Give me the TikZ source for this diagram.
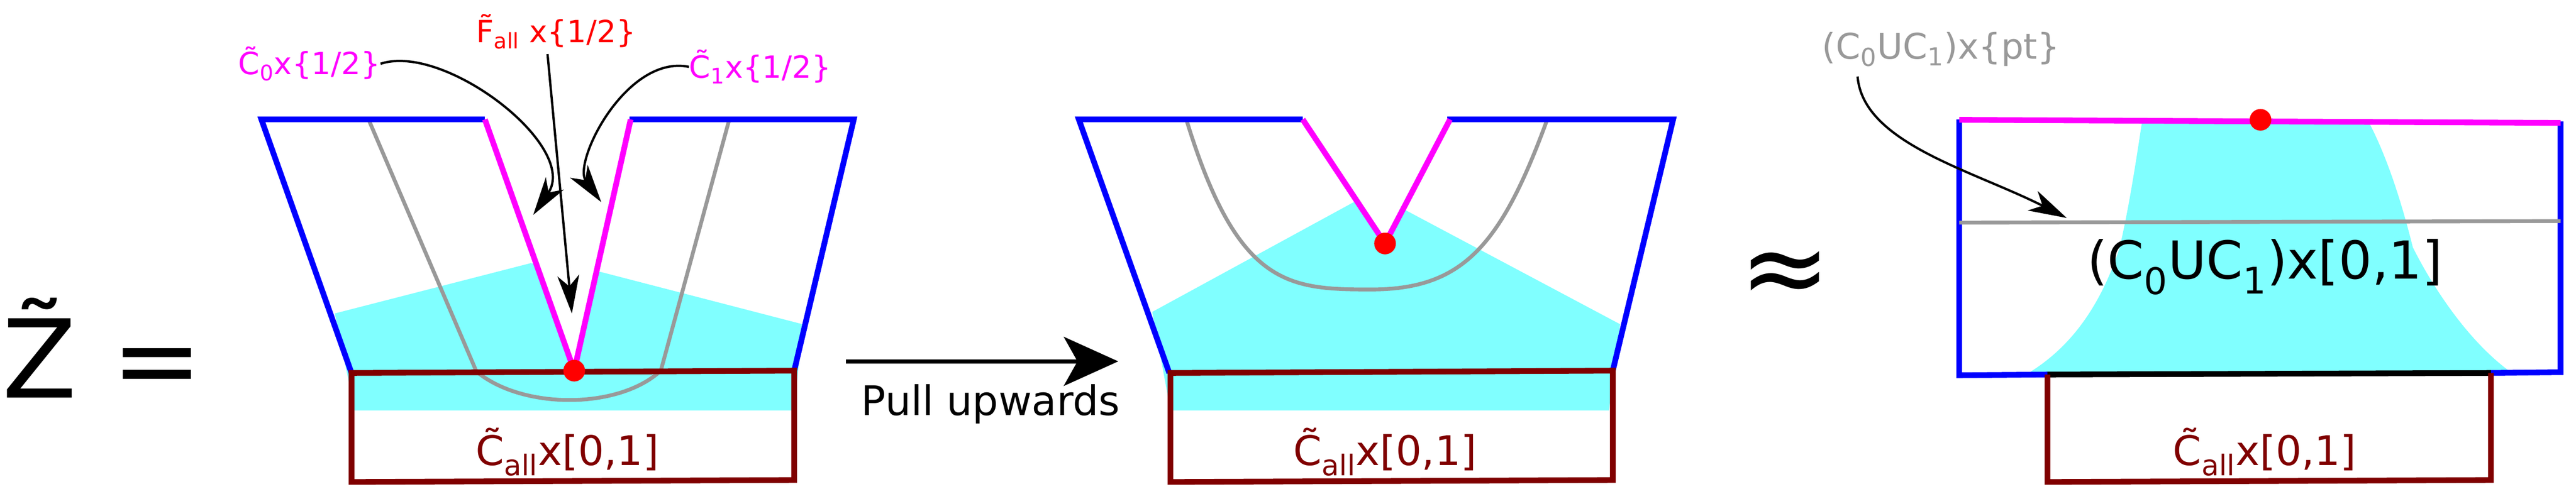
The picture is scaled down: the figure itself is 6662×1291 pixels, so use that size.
\documentclass[tikz,border=0pt]{standalone}
\usepackage{fontspec}
\setmainfont{DejaVu Sans}
\usetikzlibrary{arrows.meta}
\definecolor{fillCyan}{RGB}{128,255,255}
\definecolor{edgeBlue}{RGB}{0,0,255}
\definecolor{edgeMag}{RGB}{255,0,255}
\definecolor{edgeRed}{RGB}{128,0,0}
\definecolor{edgeGray}{RGB}{153,153,153}
\definecolor{labRed}{RGB}{255,0,0}
\tikzset{
blueline/.style={edgeBlue, line width=4.2pt, line join=miter},
magline/.style={edgeMag, line width=4.2pt},
redbox/.style={edgeRed, line width=4.2pt},
grayline/.style={edgeGray, line width=2.8pt},
pointer/.style={black, line width=1.7pt, -{Stealth[length=28pt, width=16pt, inset=8pt]}},
dotstyle/.style={circle, fill=labRed, minimum size=0.56cm, inner sep=0pt},
lbl/.style={inner sep=0pt, font=\fontsize{22.5}{26}\selectfont}
}
\newcommand{\lowidx}[1]{\textsubscript{#1}}
\begin{document}
\begin{tikzpicture}[x=0.01cm, y=-0.01cm]
\useasboundingbox (0,0) rectangle (6662,1291);

% Z =
\node (zt) at (265,900) {\fontsize{80}{90}\selectfont \~Z =};

% first panel
\fill[fillCyan] (866,811) -- (1372,681) -- (1555,704) -- (2076,839) -- (2054,1062) -- (917,1062) -- cycle;
\fill[white] (1254,309) -- (1485,959) -- (1631,309) -- cycle;
\draw[grayline] (954,311) -- (1232,961) .. controls (1350,1060) and (1600,1060) .. (1709,959) -- (1885,313);
\draw[blueline] (1254,309) -- (676,309) -- (909,965);
\draw[blueline] (1628,309) -- (2208,309) -- (2054,959);
\draw[redbox] (909,965) -- (2054,959) -- (2054,1242) -- (909,1247) -- cycle;
\draw[magline] (1254,309) -- (1485,959) -- (1631,309);
\node[dotstyle] (pa) at (1485,959) {};
\node (caa) at (1467,1169) {\color{edgeRed}\fontsize{30}{34}\selectfont \~C\lowidx{all}x[0,1]};
\node[lbl, text=labRed] (fa) at (1438,82) {\~F\lowidx{all} x\{1/2\}};
\node[lbl, text=edgeMag] (c0) at (800,165) {\~C\lowidx{0}x\{1/2\}};
\node[lbl, text=edgeMag] (c1) at (1966,173) {\~C\lowidx{1}x\{1/2\}};
\coordinate (fastart) at (1416,140);
\coordinate (c0tip) at (1379,556);
\coordinate (fatip) at (1479,811);
\coordinate (c1tip) at (1555,523);
\draw[pointer] (c0.east) .. controls (1150,110) and (1500,380) .. (c0tip);
\draw[pointer] (fastart) -- (fatip);
\draw[pointer] (c1.west) .. controls (1620,140) and (1480,420) .. (c1tip);

% pull arrow
\coordinate (pl) at (2188,935);
\coordinate (pr) at (2892,935);
\draw[black, line width=3pt, -{Stealth[length=40pt, width=36pt, inset=10pt]}] (pl) -- (pr);
\node (pull) at (2562,1045) {\fontsize{30}{34}\selectfont Pull upwards};

% second panel
\fill[fillCyan] (2980,807) -- (3501,523) -- (3626,539) -- (4190,839) -- (4161,1062) -- (3027,1062) -- cycle;
\fill[white] (3369,309) -- (3582,630) -- (3750,309) -- cycle;
\draw[grayline] (3068,309) .. controls (3200,740) and (3330,749) .. (3545,749) .. controls (3780,749) and (3880,640) .. (4000,313);
\draw[blueline] (3369,309) -- (2790,309) -- (3024,965);
\draw[blueline] (3743,309) -- (4327,309) -- (4171,959);
\draw[redbox] (3027,965) -- (4171,959) -- (4171,1242) -- (3027,1247) -- cycle;
\draw[magline] (3369,309) -- (3582,630) -- (3750,309);
\node[dotstyle] (pb) at (3582,630) {};
\node (cab) at (3582,1169) {\color{edgeRed}\fontsize{30}{34}\selectfont \~C\lowidx{all}x[0,1]};

% approx
\node (ap) at (4616,720) {\fontsize{80}{90}\selectfont ≈};

% third panel
\fill[fillCyan] (5540,312) .. controls (5515,480) and (5500,560) .. (5482,640) .. controls (5430,800) and (5350,900) .. (5251,962) -- (6492,962) .. controls (6380,880) and (6290,740) .. (6240,640) .. controls (6200,480) and (6160,380) .. (6124,312) -- cycle;
\draw[blueline] (5067,309) -- (5067,971) -- (5295,969);
\draw[blueline] (6442,965) -- (6622,963) -- (6622,314);
\draw[black, line width=4.2pt] (5295,969) -- (6442,965);
\draw[redbox] (5295,969) -- (5295,1247) -- (6442,1242) -- (6442,965);
\draw[magline] (5067,310) -- (6622,318);
\draw[grayline] (5067,576) -- (6622,572);
\node[dotstyle] (pc) at (5846,310) {};
\node (cu) at (5857,691) {\fontsize{38.5}{44}\selectfont (C\lowidx{0}UC\lowidx{1})x[0,1]};
\node (cac) at (5857,1169) {\color{edgeRed}\fontsize{30}{34}\selectfont \~C\lowidx{all}x[0,1]};
\node[lbl, text=edgeGray, font=\fontsize{26}{30}\selectfont] (cp) at (5020,128) {(C\lowidx{0}UC\lowidx{1})x\{pt\}};
\coordinate (cpstart) at (4804,198);
\coordinate (cptip) at (5345,564);
\draw[pointer] (cpstart) .. controls (4818,370) and (5100,440) .. (cptip);
\end{tikzpicture}
\end{document}
